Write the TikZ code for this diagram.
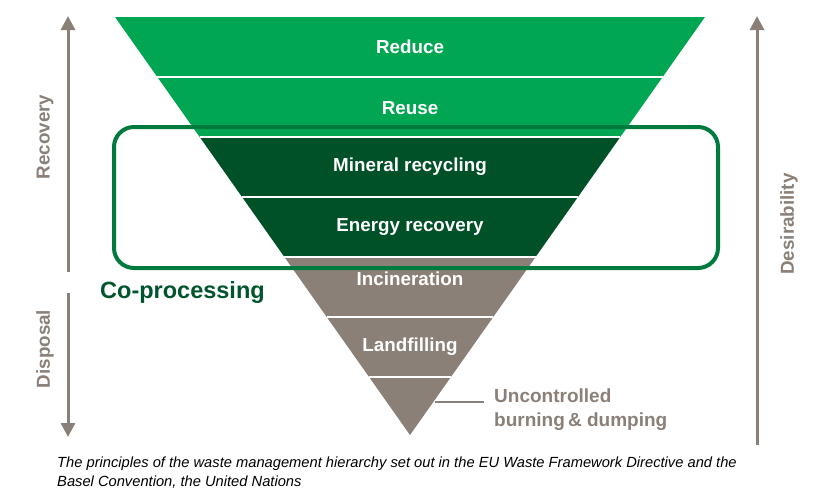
\documentclass[tikz,border=0pt]{standalone}
\usepackage{fontspec}
\setmainfont{Liberation Sans}
\usetikzlibrary{arrows.meta}
\definecolor{lgreen}{RGB}{0,166,81}
\definecolor{dgreen}{RGB}{0,80,40}
\definecolor{wgray}{RGB}{139,128,120}
\definecolor{rgreen}{RGB}{0,122,61}
\definecolor{cgreen}{RGB}{0,85,45}
\tikzset{
  band/.style={draw=none},
  sep/.style={draw=white,line width=1.3pt},
  lbl/.style={text=white,font=\fontsize{18.8}{22}\selectfont\bfseries,inner sep=0pt},
  side/.style={text=wgray,font=\fontsize{18.8}{22}\selectfont\bfseries,inner sep=0pt,rotate=90},
  axis/.style={draw=wgray,line width=3pt,-{Triangle[width=14pt,length=14pt]}},
  lead/.style={draw=wgray,line width=1.2pt},
}
\begin{document}
\begin{tikzpicture}[x=1pt,y=-1pt]
\useasboundingbox (0,0) rectangle (822,499);
% layer boundaries
\coordinate (L0) at (115,17);    \coordinate (R0) at (705,17);
\coordinate (L1) at (157.3,77);  \coordinate (R1) at (662.7,77);
\coordinate (L2) at (199.7,137); \coordinate (R2) at (620.3,137);
\coordinate (L3) at (242.0,197); \coordinate (R3) at (578.0,197);
\coordinate (L4) at (284.4,257); \coordinate (R4) at (535.6,257);
\coordinate (L5) at (326.7,317); \coordinate (R5) at (493.3,317);
\coordinate (L6) at (369.1,377); \coordinate (R6) at (450.9,377);
\coordinate (apex) at (410,435);
% bands
\fill[lgreen] (L0) -- (R0) -- (R2) -- (L2) -- cycle;
\fill[dgreen] (L2) -- (R2) -- (R4) -- (L4) -- cycle;
\fill[wgray] (L4) -- (R4) -- (apex) -- cycle;
\draw[sep] (L1) -- (R1);
\draw[sep] (L2) -- (R2);
\draw[sep] (L3) -- (R3);
\draw[sep] (L4) -- (R4);
\draw[sep] (L5) -- (R5);
\draw[sep] (L6) -- (R6);
% co-processing frame
\draw[rgreen,line width=4pt,rounded corners=20pt] (114,127) rectangle (718,268);
% labels
\node[lbl] (reduce) at (410,47) {Reduce};
\node[lbl] (reuse) at (410,108) {Reuse};
\node[lbl] (mineral) at (410,167) {Mineral recycling};
\node[lbl] (energy) at (410,227) {Energy recovery};
\node[lbl] (incin) at (410,279) {Incineration};
\node[lbl] (landf) at (410,347) {Landfilling};
\node[text=cgreen,font=\fontsize{23.5}{26}\selectfont\bfseries,inner sep=0pt,anchor=west] (cop) at (100,292) {Co-processing};
% uncontrolled
\node[text=wgray,font=\fontsize{19}{24}\selectfont\bfseries,inner sep=0pt,align=left,anchor=west] (unc) at (494,410) {Uncontrolled\\burning\,\& dumping};
\coordinate (edge) at (435,402);
\draw[lead] (edge) -- (484,402);
% axes
\coordinate (recB) at (68,272); \coordinate (recT) at (68,16);
\coordinate (disT) at (68,293); \coordinate (disB) at (68,437);
\coordinate (desB) at (757,445); \coordinate (desT) at (757,16);
\draw[axis] (recB) -- (recT);
\draw[axis] (disT) -- (disB);
\draw[axis] (desB) -- (desT);
\node[side] (rec) at (45,137) {Recovery};
\node[side] (dis) at (45,349) {Disposal};
\node[side] (des) at (789,224) {Desirability};
% caption
\node[font=\fontsize{14.7}{19}\selectfont\itshape,inner sep=0pt,align=left,anchor=north west] (cap) at (57,457) {The principles of the waste management hierarchy set out in the EU Waste Framework Directive and the\\Basel Convention, the United Nations};
\end{tikzpicture}
\end{document}
